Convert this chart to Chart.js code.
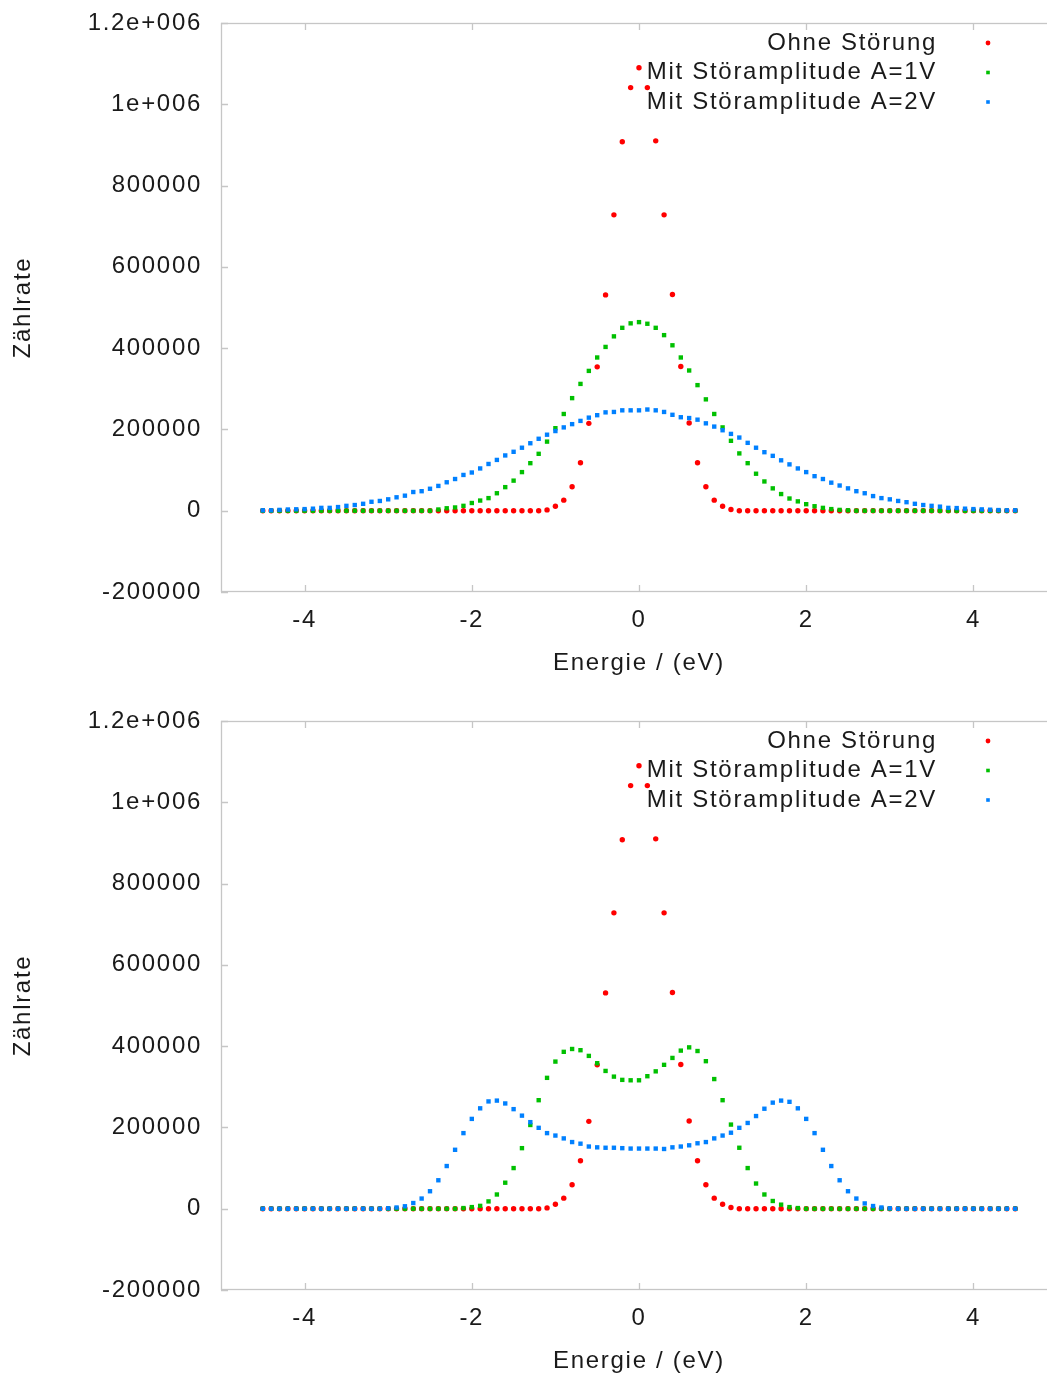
<!DOCTYPE html>
<html>
<head>
<meta charset="utf-8">
<title>Zählrate über Energie</title>
<script src="https://cdn.jsdelivr.net/npm/chart.js@4.4.1/dist/chart.umd.min.js"></script>
<style>
  html, body { margin: 0; padding: 0; background: #fff; overflow: hidden; }
  body { width: 1047px; height: 1378px; position: relative; }
  .plot { position: absolute; left: 0; width: 1080px; height: 700px; }
  #top { top: 0; }
  #bottom { top: 698px; }
</style>
</head>
<body>
<div class="plot" id="top"><canvas id="chartTop" width="1080" height="700"></canvas></div>
<div class="plot" id="bottom"><canvas id="chartBottom" width="1080" height="700"></canvas></div>
<script>
// Energie-Raster in eV (-4.5 ... 4.5, Schritt 0.1)
const energy = [
  -4.5, -4.4, -4.3, -4.2, -4.1, -4.0, -3.9, -3.8, -3.7, -3.6,
  -3.5, -3.4, -3.3, -3.2, -3.1, -3.0, -2.9, -2.8, -2.7, -2.6,
  -2.5, -2.4, -2.3, -2.2, -2.1, -2.0, -1.9, -1.8, -1.7, -1.6,
  -1.5, -1.4, -1.3, -1.2, -1.1, -1.0, -0.9, -0.8, -0.7, -0.6,
  -0.5, -0.4, -0.3, -0.2, -0.1, 0.0, 0.1, 0.2, 0.3, 0.4,
  0.5, 0.6, 0.7, 0.8, 0.9, 1.0, 1.1, 1.2, 1.3, 1.4,
  1.5, 1.6, 1.7, 1.8, 1.9, 2.0, 2.1, 2.2, 2.3, 2.4,
  2.5, 2.6, 2.7, 2.8, 2.9, 3.0, 3.1, 3.2, 3.3, 3.4,
  3.5, 3.6, 3.7, 3.8, 3.9, 4.0, 4.1, 4.2, 4.3, 4.4,
  4.5
];

// ohne Störung (beide Diagramme)
const ohneStoerung = [
  0, 0, 0, 0, 0, 0, 0, 0, 0, 0,
  0, 0, 0, 0, 0, 0, 0, 0, 0, 0,
  0, 0, 0, 0, 0, 0, 0, 0, 0, 0,
  0, 0, 0, 0, 2000, 11000, 26000, 59000, 118000, 215000,
  354000, 531000, 728000, 908000, 1041000, 1090000, 1041000, 910000, 728000, 532000,
  355000, 216000, 118000, 59000, 26000, 11000, 3000, 0, 0, 0,
  0, 0, 0, 0, 0, 0, 0, 0, 0, 0,
  0, 0, 0, 0, 0, 0, 0, 0, 0, 0,
  0, 0, 0, 0, 0, 0, 0, 0, 0, 0,
  0
];

// oberes Diagramm: A=1V
const stoerung1VOben = [
  0, 0, 0, 0, 0, 0, 0, 0, 0, 0,
  0, 0, 0, 0, 0, 0, 0, 0, 0, 0,
  0, 3000, 6000, 8000, 12000, 19000, 25000, 31000, 43000, 58000,
  74000, 95000, 117000, 140000, 170000, 203000, 238000, 277000, 312000, 344000,
  377000, 403000, 429000, 450000, 461000, 464000, 460000, 450000, 432000, 407000,
  377000, 345000, 309000, 274000, 238000, 205000, 172000, 141000, 117000, 91000,
  72000, 55000, 41000, 30000, 23000, 16000, 11000, 7000, 4000, 2000,
  1000, 0, 0, 0, 0, 0, 0, 0, 0, 0,
  0, 0, 0, 0, 0, 0, 0, 0, 0, 0,
  0
];

// oberes Diagramm: A=2V
const stoerung2VOben = [
  1000, 1000, 2000, 3000, 3500, 4000, 5000, 7000, 7000, 9000,
  12000, 14000, 17000, 22000, 24000, 28000, 33000, 37000, 46000, 48000,
  54000, 61000, 70000, 78000, 88000, 94000, 104000, 115000, 125000, 136000,
  145000, 155000, 166000, 177000, 187000, 196000, 205000, 213000, 221000, 229000,
  235000, 242000, 243000, 247000, 247000, 247000, 249000, 247000, 243000, 236000,
  230000, 228000, 224000, 215000, 207000, 198000, 189000, 180000, 167000, 155000,
  144000, 135000, 124000, 114000, 104000, 95000, 85000, 78000, 69000, 62000,
  55000, 48000, 43000, 36000, 31000, 28000, 24000, 21000, 17000, 14000,
  12000, 10000, 7000, 6500, 5000, 4000, 3300, 2500, 1600, 1000,
  1000
];

// unteres Diagramm: A=1V
const stoerung1VUnten = [
  0, 0, 0, 0, 0, 0, 0, 0, 0, 0,
  0, 0, 0, 0, 0, 0, 0, 0, 0, 0,
  0, 0, 0, 0, 1600, 4000, 7000, 18000, 35000, 64000,
  100000, 149000, 206000, 267000, 322000, 362000, 386000, 393000, 390000, 376000,
  358000, 339000, 325000, 317000, 316000, 316000, 326000, 338000, 354000, 371000,
  389000, 397000, 388000, 363000, 319000, 267000, 207000, 150000, 100000, 62000,
  35000, 19000, 10000, 4000, 1600, 0, 0, 0, 0, 0,
  0, 0, 0, 0, 0, 0, 0, 0, 0, 0,
  0, 0, 0, 0, 0, 0, 0, 0, 0, 0,
  0
];

// unteres Diagramm: A=2V
const stoerung2VUnten = [
  0, 0, 0, 0, 0, 0, 0, 0, 0, 0,
  0, 0, 0, 0, 0, 1000, 3000, 6000, 14000, 25000,
  43000, 70000, 105000, 145000, 186000, 221000, 247000, 264000, 266000, 259000,
  245000, 229000, 213000, 199000, 186000, 180000, 173000, 164000, 160000, 153000,
  151000, 150000, 150000, 149000, 148000, 148000, 148000, 148000, 147000, 151000,
  153000, 156000, 161000, 164000, 173000, 180000, 187000, 199000, 211000, 228000,
  246000, 261000, 266000, 263000, 247000, 221000, 186000, 145000, 105000, 70000,
  43000, 25000, 13000, 6600, 3000, 1000, 0, 0, 0, 0,
  0, 0, 0, 0, 0, 0, 0, 0, 0, 0,
  0
];

const seriesLabels = ['Ohne Störung', 'Mit Störamplitude A=1V', 'Mit Störamplitude A=2V'];
const xTicks = [-4, -2, 0, 2, 4];
const xTickLabels = ['-4', '-2', '0', '2', '4'];
const yTicks = [-200000, 0, 200000, 400000, 600000, 800000, 1000000, 1200000];
const yTickLabels = ['-200000', '0', '200000', '400000', '600000', '800000', '1e+006', '1.2e+006'];

const RED = '#ff0000';
const GREEN = '#00c000';
const BLUE = '#0080ff';
const TEXT = '#1a1a1a';
const FRAME = '#c6c6c6';
const SPACING = '1.7px';

Chart.defaults.font.family = '"Liberation Sans", Arial, sans-serif';
Chart.defaults.font.size = 24;
Chart.defaults.color = TEXT;

// etwas Sperrung für alle Texte
const spacing = {
  id: 'spacing',
  beforeLayout(chart) { chart.ctx.letterSpacing = SPACING; },
  beforeDraw(chart) { chart.ctx.letterSpacing = SPACING; }
};

// Rahmen mit nach innen zeigenden Ticks auf allen vier Seiten
const frame = {
  id: 'frame',
  beforeDatasetsDraw(chart) {
    const { ctx, chartArea: a, scales: { x, y } } = chart;
    const len = 7;
    ctx.save();
    ctx.strokeStyle = FRAME;
    ctx.lineWidth = 1.3;
    ctx.strokeRect(a.left + 0.5, a.top + 0.5, a.right - a.left - 1, a.bottom - a.top - 1);
    ctx.beginPath();
    x.ticks.forEach(t => {
      const px = Math.round(x.getPixelForValue(t.value)) + 0.5;
      ctx.moveTo(px, a.bottom); ctx.lineTo(px, a.bottom - len);
      ctx.moveTo(px, a.top); ctx.lineTo(px, a.top + len);
    });
    y.ticks.forEach(t => {
      const py = Math.round(y.getPixelForValue(t.value)) + 0.5;
      ctx.moveTo(a.left, py); ctx.lineTo(a.left + len, py);
      ctx.moveTo(a.right, py); ctx.lineTo(a.right - len, py);
    });
    ctx.stroke();
    ctx.restore();
  }
};

// Legende oben rechts: Text rechtsbündig, Punktsymbol dahinter
const keyBox = {
  id: 'keyBox',
  afterDraw(chart) {
    const { ctx, chartArea: a } = chart;
    ctx.save();
    ctx.letterSpacing = SPACING;
    ctx.font = '24px "Liberation Sans", Arial, sans-serif';
    ctx.textAlign = 'right';
    ctx.textBaseline = 'middle';
    chart.data.datasets.forEach((ds, i) => {
      const yy = a.top + 20 + i * 29.5;
      ctx.fillStyle = TEXT;
      ctx.fillText(ds.label, a.right - 120, yy);
      const mx = a.right - 69;
      ctx.fillStyle = ds.backgroundColor;
      if (ds.pointStyle === 'circle') {
        ctx.beginPath();
        ctx.arc(mx, yy, 2.4, 0, Math.PI * 2);
        ctx.fill();
      } else {
        ctx.fillRect(mx - 1.8, yy - 1.8, 3.6, 3.6);
      }
    });
    ctx.restore();
  }
};

function series(label, values, color, style, radius, order) {
  return {
    label,
    data: energy.map((e, i) => ({ x: e, y: values[i] })),
    showLine: false,
    pointStyle: style,
    pointRadius: radius,
    pointHoverRadius: radius,
    pointBorderWidth: 0,
    backgroundColor: color,
    borderColor: color,
    order
  };
}

function makeChart(id, red, green, blue) {
  return new Chart(document.getElementById(id), {
    type: 'scatter',
    data: {
      datasets: [
        series(seriesLabels[0], red, RED, 'circle', 2.7, 3),
        series(seriesLabels[1], green, GREEN, 'rect', 3.1, 2),
        series(seriesLabels[2], blue, BLUE, 'rect', 3.1, 1)
      ]
    },
    options: {
      responsive: false,
      devicePixelRatio: 1,
      animation: false,
      events: [],
      layout: { padding: { top: 23, right: 23, left: 0, bottom: 0 } },
      plugins: { legend: { display: false }, tooltip: { enabled: false } },
      scales: {
        x: {
          type: 'linear',
          min: -5,
          max: 5,
          afterBuildTicks: s => { s.ticks = xTicks.map(v => ({ value: v })); },
          ticks: { padding: 14, maxRotation: 0, callback: (v, i) => xTickLabels[i] },
          grid: { display: false, drawTicks: false },
          border: { display: false },
          title: { display: true, text: 'Energie / (eV)', padding: { top: 0, bottom: 22.6 } },
          afterFit: s => { s.height = 700 - 592; }
        },
        y: {
          type: 'linear',
          min: -200000,
          max: 1200000,
          afterBuildTicks: s => { s.ticks = yTicks.map(v => ({ value: v })); },
          ticks: { padding: 19, callback: (v, i) => yTickLabels[i] },
          grid: { display: false, drawTicks: false },
          border: { display: false },
          title: { display: true, text: 'Zählrate', padding: { top: 8.6, bottom: 0 } },
          afterFit: s => {
            s.width = 221;
            s.paddingTop = 0;
            s.paddingBottom = 0;
          }
        }
      }
    },
    plugins: [spacing, frame, keyBox]
  });
}

makeChart('chartTop', ohneStoerung, stoerung1VOben, stoerung2VOben);
makeChart('chartBottom', ohneStoerung, stoerung1VUnten, stoerung2VUnten);
</script>
</body>
</html>
